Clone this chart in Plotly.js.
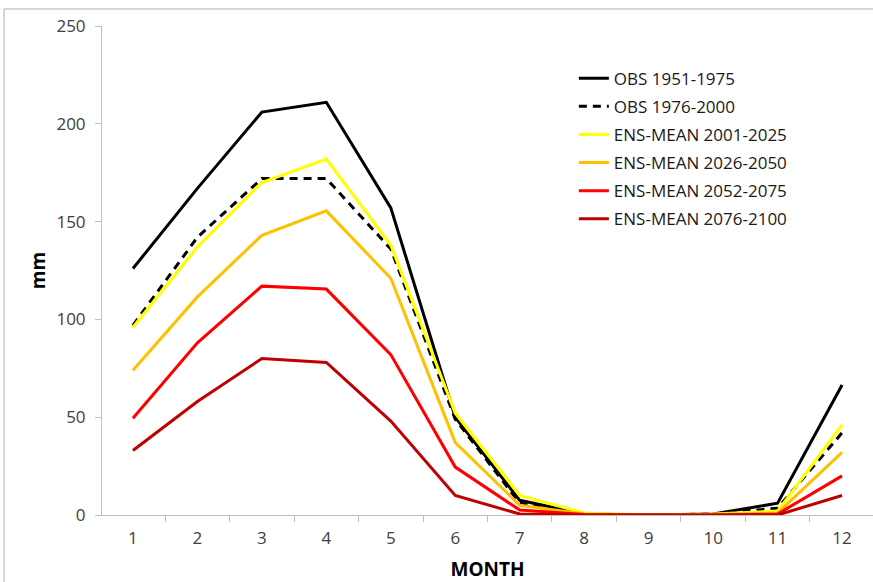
<!DOCTYPE html>
<html>
<head>
<meta charset="utf-8">
<script src="https://cdn.plot.ly/plotly-3.0.1.min.js"></script>
<style>html,body{margin:0;padding:0;background:#fff;}#chart{width:873px;height:582px;}</style>
</head>
<body>
<div id="chart"></div>
<script>
const months = ['1','2','3','4','5','6','7','8','9','10','11','12'];
const seriesNames = ['OBS 1951-1975','OBS 1976-2000','ENS-MEAN 2001-2025','ENS-MEAN 2026-2050','ENS-MEAN 2052-2075','ENS-MEAN 2076-2100'];
const obs1951 = [126, 167, 206, 211, 157, 50, 7.5, 0.5, 0, 0.5, 6, 66.5];
const obs1976 = [97, 142, 172, 172, 136, 49, 6, 0.5, 0, 0.5, 3.5, 42];
const ens2001 = [96, 137, 170, 182, 138, 52, 10, 1, 0, 0.5, 2, 46];
const ens2026 = [74, 111.5, 143, 155.5, 121, 37, 5, 0.5, 0, 0.3, 1, 32];
const ens2052 = [49.5, 88, 117, 115.5, 82, 24.5, 2.5, 0.3, 0, 0, 0.5, 20];
const ens2076 = [33, 58, 80, 78, 48, 10, 0.5, 0, 0, 0, 0, 10];

const values = [obs1951, obs1976, ens2001, ens2026, ens2052, ens2076];
const colors = ['#000000','#000000','#FFFF00','#FFC000','#FF0000','#C00000'];
const dashes = ['solid','8px,6px','solid','solid','solid','solid'];

const traces = values.map((v, i) => ({
  x: months, y: v, name: seriesNames[i], type: 'scatter', mode: 'lines',
  legendgroup: 'g' + i,
  line: {color: colors[i], width: 3, dash: dashes[i]}
}));

const layout = {
  width: 873, height: 582,
  margin: {l: 102, r: 0, t: 26, b: 67},
  paper_bgcolor: '#ffffff', plot_bgcolor: '#ffffff',
  font: {family: '"Open Sans", sans-serif', color: '#404040', size: 16},
  showlegend: true,
  legend: {x: 0.612, y: 0.929, xanchor: 'left', yanchor: 'top', bgcolor: 'rgba(0,0,0,0)',
    font: {size: 17, color: '#1a1a1a'}, tracegroupgap: 3, traceorder: 'grouped'},
  xaxis: {type: 'category', range: [-0.48, 11.48], tickson: 'boundaries', ticks: 'outside', ticklen: 6, tickcolor: '#bfbfbf',
    showline: true, linecolor: '#bfbfbf', linewidth: 1, showgrid: false, zeroline: false,
    ticklabelstandoff: 8,
    tickfont: {size: 17, color: '#404040'},
    title: {text: 'MONTH', font: {size: 19, color: '#000000', family: '"Open Sans", sans-serif', weight: 'bold'}, standoff: 15}},
  yaxis: {range: [0, 250], tickvals: [0, 50, 100, 150, 200, 250], ticks: 'outside', ticklen: 6, tickcolor: '#bfbfbf',
    showline: true, linecolor: '#bfbfbf', linewidth: 1, showgrid: false, zeroline: false,
    ticklabelstandoff: 6,
    tickfont: {size: 17, color: '#404040'},
    title: {text: 'mm', font: {size: 19, color: '#000000', family: '"Open Sans", sans-serif', weight: 'bold'}, standoff: 5}},
  shapes: [{type: 'rect', xref: 'paper', yref: 'paper', x0: -0.127, x1: 1.03, y0: -0.2, y1: 1.0348,
    line: {color: '#b0b0b0', width: 1}, fillcolor: 'rgba(0,0,0,0)', layer: 'below'}]
};

Plotly.newPlot('chart', traces, layout, {displayModeBar: false, staticPlot: true});
</script>
</body>
</html>
